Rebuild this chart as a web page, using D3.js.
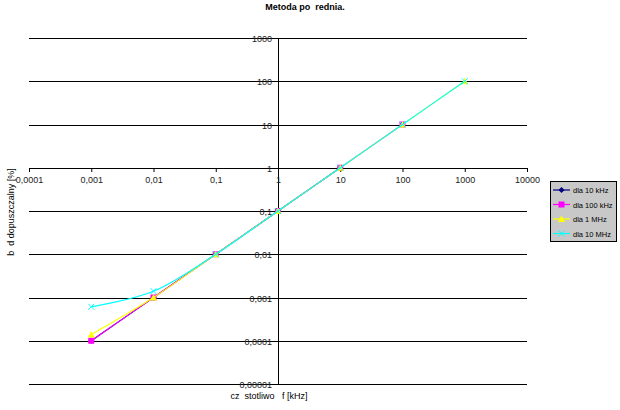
<!DOCTYPE html>
<html><head><meta charset="utf-8">
<script src="https://cdn.jsdelivr.net/npm/d3@7/dist/d3.min.js"></script>
<style>body{margin:0;background:#fff}svg{display:block}text{font-family:"Liberation Sans",Arial,sans-serif;white-space:pre}</style>
</head><body><svg id="c" width="620" height="410"></svg>
<script>
const xTicks = [0.0001,0.001,0.01,0.1,1,10,100,1000,10000];
const xTickLabels = ["0,0001","0,001","0,01","0,1","1","10","100","1000","10000"];
const yTicks = [1000,100,10,1,0.1,0.01,0.001,0.0001,0.00001];
const yTickLabels = ["1000","100","10","1","0,1","0,01","0,001","0,0001","0,00001"];
const seriesNames = ["dla 10 kHz","dla 100 kHz","dla 1 MHz","dla 10 MHz"];
const x10k = [0.001,0.01,0.1,1,10];
const y10k = [0.0001,0.001,0.01,0.1,1];
const x100k = [0.001,0.01,0.1,1,10,100];
const y100k = [0.0001,0.001,0.01,0.1,1,10];
const x1M = [0.001,0.01,0.1,1,10,100,1000];
const y1M = [0.00014,0.001,0.01,0.1,1,10,100];
const x10M = [0.001,0.01,0.1,1,10,100,1000];
const y10M = [0.00061,0.0014,0.01,0.1,1,10,100];
const colors = ["#000080","#ff00ff","#ffff00","#00ffff"];
const markers = ["diamond","square","triangle","x"];

const svg = d3.select("#c");
const x = d3.scaleLog().domain([0.0001,10000]).range([29,527]);
const y = d3.scaleLog().domain([0.00001,1000]).range([384,38]);

// title
svg.append("text").attr("x",305).attr("y",10).attr("text-anchor","middle")
  .attr("font-size",9).attr("font-weight","bold").attr("xml:space","preserve").text("Metoda po  rednia.");

// gridlines
svg.append("g").selectAll("line").data(yTicks).join("line")
  .attr("x1",x.range()[0]).attr("x2",x.range()[1])
  .attr("y1",d=>Math.round(y(d))+0.5).attr("y2",d=>Math.round(y(d))+0.5)
  .attr("stroke","#000").attr("stroke-width",1);

// y tick labels (left of y axis, struck by gridline)
svg.append("g").selectAll("text").data(yTicks).join("text")
  .attr("x",272).attr("y",d=>Math.round(y(d))+3.5).attr("text-anchor","end")
  .attr("font-size",9).attr("fill","#222").text((d,i)=>yTickLabels[i]);

// y axis
const x1px = Math.round(x(1))+0.5;
svg.append("line").attr("x1",x1px).attr("x2",x1px).attr("y1",y(1000)).attr("y2",y(0.00001)+1)
  .attr("stroke","#000");

// x axis via d3 axis at y=1
const xAxis = d3.axisBottom(x).tickValues(xTicks).tickSize(4).tickPadding(5)
  .tickFormat((d,i)=>xTickLabels[i]);
const gx = svg.append("g").attr("transform",`translate(0,${Math.round(y(1))})`).call(xAxis);
gx.select(".domain").remove();
gx.selectAll(".tick line").attr("stroke","#000");
gx.selectAll(".tick text").attr("font-size",9).attr("fill","#222").attr("font-family","Liberation Sans, Arial, sans-serif");

// series
const data = [[x10k,y10k],[x100k,y100k],[x1M,y1M],[x10M,y10M]];
const line = d3.line().x(d=>x(d[0])).y(d=>y(d[1])).curve(d3.curveCatmullRom.alpha(0.5));
function drawMarker(g, type, color, cx, cy){
  if(type==="diamond"){
    g.append("path").attr("d",`M${cx},${cy-3}L${cx+3},${cy}L${cx},${cy+3}L${cx-3},${cy}Z`).attr("fill",color);
  } else if(type==="square"){
    g.append("rect").attr("x",cx-3).attr("y",cy-3).attr("width",6).attr("height",6).attr("fill",color);
  } else if(type==="triangle"){
    g.append("path").attr("d",`M${cx},${cy-3.5}L${cx+3.5},${cy+3}L${cx-3.5},${cy+3}Z`).attr("fill",color);
  } else {
    g.append("path").attr("d",`M${cx-3},${cy-3}L${cx+3},${cy+3}M${cx-3},${cy+3}L${cx+3},${cy-3}`).attr("stroke",color).attr("stroke-width",1);
  }
}
data.forEach((s,i)=>{
  const pts = s[0].map((v,j)=>[v,s[1][j]]);
  const g = svg.append("g");
  g.append("path").attr("d",line(pts)).attr("fill","none").attr("stroke",colors[i]).attr("stroke-width",1.2);
  pts.forEach(p=>drawMarker(g,markers[i],colors[i],x(p[0]),y(p[1])));
});

// axis titles
svg.append("text").attr("x",269).attr("y",399).attr("text-anchor","middle")
  .attr("font-size",9).attr("xml:space","preserve").text("cz  stotliwo   f [kHz]");
svg.append("text").attr("transform","translate(14,212) rotate(-90)").attr("text-anchor","middle")
  .attr("font-size",9).attr("xml:space","preserve").text("b  d dopuszczalny [%]");

// legend
const lg = svg.append("g");
lg.append("rect").attr("x",550.5).attr("y",181.5).attr("width",66).attr("height",60)
  .attr("fill","#c8c8c8").attr("stroke","#000");
seriesNames.forEach((n,i)=>{
  const ly = 190 + i*14.5;
  lg.append("line").attr("x1",553).attr("x2",570).attr("y1",ly).attr("y2",ly).attr("stroke",colors[i]).attr("stroke-width",1.2);
  drawMarker(lg,markers[i],colors[i],561.5,ly);
  lg.append("text").attr("x",573).attr("y",ly+3).attr("font-size",7.5).text(n);
});
</script></body></html>
